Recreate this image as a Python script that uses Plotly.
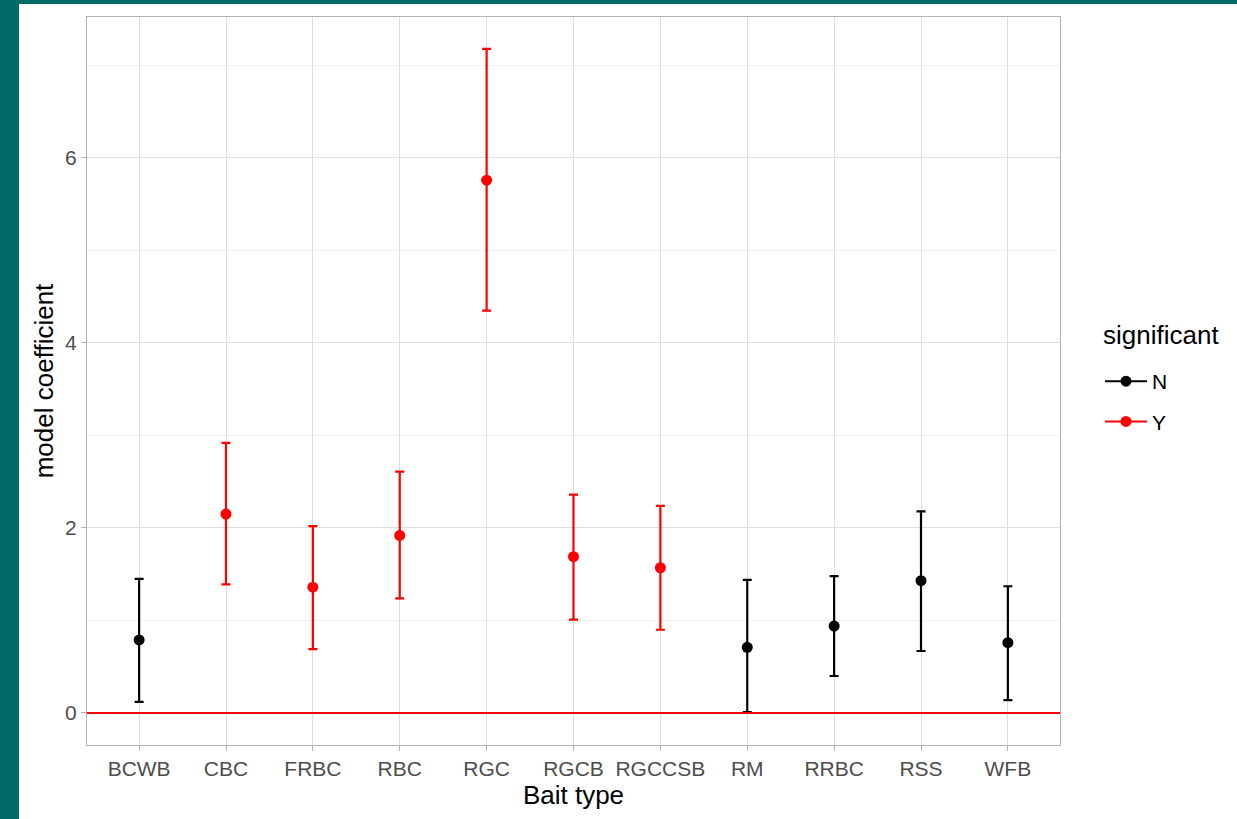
import plotly.graph_objects as go

categories = ["BCWB", "CBC", "FRBC", "RBC", "RGC", "RGCB", "RGCCSB", "RM", "RRBC", "RSS", "WFB"]
estimate = [0.79, 2.15, 1.36, 1.92, 5.76, 1.69, 1.57, 0.71, 0.94, 1.43, 0.76]
upper = [1.45, 2.92, 2.02, 2.61, 7.18, 2.36, 2.24, 1.44, 1.48, 2.18, 1.37]
lower = [0.12, 1.39, 0.69, 1.24, 4.35, 1.01, 0.90, 0.01, 0.40, 0.67, 0.14]
significant = ["N", "Y", "Y", "Y", "Y", "Y", "Y", "N", "N", "N", "N"]
y_ticks = [0, 2, 4, 6]
ref_line = 0

colors = {"N": "black", "Y": "#FF0000"}
FONT = "Liberation Sans, Arial, sans-serif"

fig = go.Figure()
for grp in ["N", "Y"]:
    idx = [i for i, s in enumerate(significant) if s == grp]
    xs = [categories[i] for i in idx]
    ys = [estimate[i] for i in idx]
    ep = [upper[i] - estimate[i] for i in idx]
    em = [estimate[i] - lower[i] for i in idx]
    fig.add_trace(go.Scatter(
        x=xs, y=ys, mode="markers",
        marker=dict(color=colors[grp], size=11),
        error_y=dict(type="data", symmetric=False, array=ep, arrayminus=em,
                     color=colors[grp], thickness=2.2, width=4.5),
        showlegend=False, legendgroup=grp, cliponaxis=False,
    ))
    # legend entry (line + point glyph like ggplot)
    fig.add_trace(go.Scatter(
        x=[None], y=[None], mode="lines+markers", name=grp,
        line=dict(color=colors[grp], width=2),
        marker=dict(color=colors[grp], size=11),
        legendgroup=grp, showlegend=True,
    ))

# horizontal reference line at 0
fig.add_hline(y=ref_line, line=dict(color="#FF0000", width=2.2), layer="above")

# teal frame strips (left and top)
L, R, T, B = 87, 177, 17, 74
W, H = 1237, 819
pw, ph = W - L - R, H - T - B
fig.add_shape(type="rect", xref="paper", yref="paper",
              x0=(0 - L) / pw, x1=(19 - L) / pw, y0=-B / ph - 0.01, y1=(H - B) / ph + 0.01,
              fillcolor="#016B68", line=dict(width=0), layer="below")
fig.add_shape(type="rect", xref="paper", yref="paper",
              x0=(0 - L) / pw, x1=(W - L) / pw + 0.01, y0=(H - B - 4) / ph, y1=(H - B) / ph + 0.01,
              fillcolor="#016B68", line=dict(width=0), layer="below")

# legend title as annotation
fig.add_annotation(text="significant", xref="paper", yref="paper",
                   x=(1101 - L) / pw, y=(H - B - 335) / ph, xanchor="left", yanchor="middle",
                   showarrow=False, font=dict(size=26, color="black", family=FONT))

fig.update_layout(
    width=W, height=H,
    margin=dict(l=L, r=R, t=T, b=B, pad=0),
    paper_bgcolor="white", plot_bgcolor="white",
    font=dict(family=FONT, color="black"),
    legend=dict(
        font=dict(size=21, color="black"),
        x=(1100 - L) / pw, xanchor="left", y=(H - B - 361) / ph, yanchor="top",
        tracegroupgap=10, traceorder="grouped",
        itemwidth=42,
    ),
)
fig.update_xaxes(
    categoryorder="array", categoryarray=categories,
    range=[-0.6, 10.6],
    showgrid=True, gridcolor="#DEDEDE", gridwidth=1,
    showline=True, mirror=True, linecolor="#B3B3B3", linewidth=1,
    ticks="outside", ticklen=5, tickcolor="#B3B3B3",
    tickfont=dict(size=21, color="#4D4D4D"),
    title=dict(text="Bait type", font=dict(size=26, color="black"), standoff=6),
    zeroline=False,
)
fig.update_yaxes(
    range=[-0.346, 7.524],
    tickvals=y_ticks, ticktext=[str(v) for v in y_ticks],
    showgrid=True, gridcolor="#DEDEDE", gridwidth=1,
    minor=dict(tickvals=[1, 3, 5, 7], showgrid=True, gridcolor="#F1F1F1", gridwidth=1, ticks=""),
    showline=True, mirror=True, linecolor="#B3B3B3", linewidth=1,
    ticks="outside", ticklen=5, tickcolor="#B3B3B3",
    tickfont=dict(size=21, color="#4D4D4D"),
    title=dict(text="model coefficient", font=dict(size=26, color="black"), standoff=4),
    zeroline=False,
)

fig.write_html("out.html")
